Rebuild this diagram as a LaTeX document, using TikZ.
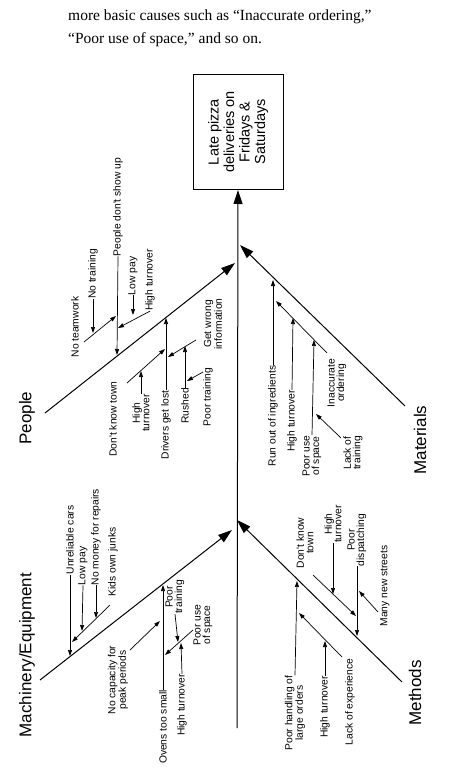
\documentclass[tikz,border=0pt]{standalone}
\usepackage{fontspec}
\setmainfont{Liberation Serif}
\newfontfamily\lab{Liberation Sans}
\usetikzlibrary{arrows.meta}
\begin{document}
\begin{tikzpicture}[x=1pt,y=-1pt,
  bone/.style={line width=1pt,-{Triangle[length=14pt,width=9pt]}},
  sa/.style={line width=0.7pt,-{Triangle[length=6pt,width=4pt]}},
  ln/.style={line width=0.7pt},
  t/.style={rotate=90,font=\lab\fontsize{10.3}{9.5}\selectfont,inner sep=0pt,align=center},
  cat/.style={rotate=90,font=\lab\fontsize{17}{18}\selectfont,inner sep=0pt},
  top/.style={anchor=west,font=\fontsize{15.5}{17}\selectfont,inner sep=0pt}]
\useasboundingbox (0,0) rectangle (468,783);
\node[top] (l1) at (68,17) {more basic causes such as “Inaccurate ordering,”};
\node[top] (l2) at (68,40) {“Poor use of space,” and so on.};
% effect
\node[draw,line width=1pt,rotate=90,align=center,minimum width=115pt,minimum height=90pt,
  font=\lab\fontsize{14.5}{15.5}\selectfont] (box) at (238,132) {Late pizza\\deliveries on\\Fridays \&\\Saturdays};
\coordinate (sb) at (237,728);
\draw[bone] (sb) -- (box.west);
% main bones
\coordinate (pe0) at (45,413); \coordinate (pe1) at (235,263);
\coordinate (ma0) at (405,406); \coordinate (ma1) at (240,245);
\coordinate (mc0) at (40,680); \coordinate (mc1) at (232,530);
\coordinate (me0) at (402,682); \coordinate (me1) at (237,520);
\draw[bone] (pe0) -- (pe1);
\draw[bone] (ma0) -- (ma1);
\draw[bone] (mc0) -- (mc1);
\draw[bone] (me0) -- (me1);
\node[cat] (cPe) at (27,418) {People};
\node[cat] (cMa) at (420,440) {Materials};
\node[cat] (cMc) at (27,655) {Machinery/Equipment};
\node[cat] (cMe) at (415,693) {Methods};
% People, upper
\node[t] (pdsu) at (118,207) {People don't show up};
\draw[sa] (pdsu.west) -- (117,355);
\node[t] (ntw) at (75,327) {No teamwork};
\coordinate (ntwa) at (84,342);
\draw[sa] (ntwa) -- (116,316);
\node[t] (ntr) at (93,274) {No training};
\draw[sa] (ntr.west) -- (93,333);
\node[t] (hto1) at (150,280) {High turnover};
\draw[sa] (hto1.west) -- (118,328);
\node[t] (lp1) at (133,276) {Low pay};
\draw[sa] (lp1.west) -- (133,315);
% People, lower
\node[t] (dgl) at (166,425) {Drivers get lost};
\draw[sa] (dgl.east) -- (166,318);
\node[t] (dkt) at (113,419) {Don't know town};
\coordinate (dkta) at (127,383);
\draw[sa] (dkta) -- (165,349);
\node[t] (hto2) at (141,413) {High\\turnover};
\draw[sa] (hto2.east) -- (141,371);
\node[t] (gwi) at (213,324) {Get wrong\\information};
\coordinate (gwia) at (196,340);
\draw[sa] (gwia) -- (168,357);
\node[t] (rus) at (185,406) {Rushed};
\draw[sa] (rus.east) -- (185,346);
\node[t] (ptr1) at (208,397) {Poor training};
\coordinate (ptra) at (203,372);
\draw[sa] (ptra) -- (187,381);
% Materials
\node[t] (roi) at (273,416) {Run out of ingredients};
\draw[sa] (roi.east) -- (273,280);
\node[t] (iord) at (337,383) {Inaccurate\\ordering};
\coordinate (ioa) at (327,353);
\draw[sa] (ioa) -- (276,301);
\node[t] (hto3) at (292,421) {High turnover};
\draw[sa] (hto3.east) -- (293,318);
\node[t] (pus1) at (312,456) {Poor use\\of space};
\draw[sa] (pus1.east) -- (314,340);
\node[t] (lot) at (353,453) {Lack of\\training};
\coordinate (lota) at (341,438);
\draw[sa] (lota) -- (316,414);
% Machinery
\node[t] (urc) at (70,540) {Unreliable cars};
\draw[sa] (urc.west) -- (70,656);
\node[t] (koj) at (113,562) {Kids own junks};
\coordinate (koja) at (110,605);
\draw[sa] (koja) -- (72,642);
\node[t] (lp2) at (83,566) {Low pay};
\draw[sa] (lp2.west) -- (82,631);
\node[t] (nmr) at (96,537) {No money for repairs};
\draw[sa] (nmr.west) -- (96,618);
\node[t] (ots) at (163,727) {Ovens too small};
\draw[sa] (ots.east) -- (163,585);
\node[t] (ncp) at (118,680) {No capacity for\\peak periods};
\coordinate (ncpa) at (130,650);
\draw[sa] (ncpa) -- (160,621);
\node[t] (ptr2) at (175,597) {Poor\\training};
\draw[sa] (ptr2.west) -- (178,642);
\node[t] (pus2) at (203,625) {Poor use\\of space};
\coordinate (pusa) at (193,630);
\draw[sa] (pusa) -- (165,655);
\node[t] (hto4) at (182,705) {High turnover};
\draw[sa] (hto4.east) -- (181,643);
% Methods
\node[t] (pho) at (295,713) {Poor handling of\\large orders};
\draw[sa] (pho.east) -- (297,581);
\node[t] (loe) at (350,702) {Lack of experience};
\coordinate (loea) at (342,657);
\draw[sa] (loea) -- (299,613);
\node[t] (hto5) at (325,707) {High turnover};
\draw[sa] (hto5.east) -- (325,641);
\node[t] (dkt2) at (305,543) {Don't know\\town};
\coordinate (dkt2a) at (313,575);
\draw[sa] (dkt2a) -- (356,616);
\node[t] (hto6) at (333,524) {High\\turnover};
\draw[sa] (hto6.west) -- (333,594);
\node[t] (pdi) at (357,540) {Poor\\dispatching};
\draw[sa] (pdi.west) -- (357,636);
\node[t] (mns) at (385,586) {Many new streets};
\coordinate (mnsa) at (378,612);
\draw[sa] (mnsa) -- (359,591);
\end{tikzpicture}
\end{document}
